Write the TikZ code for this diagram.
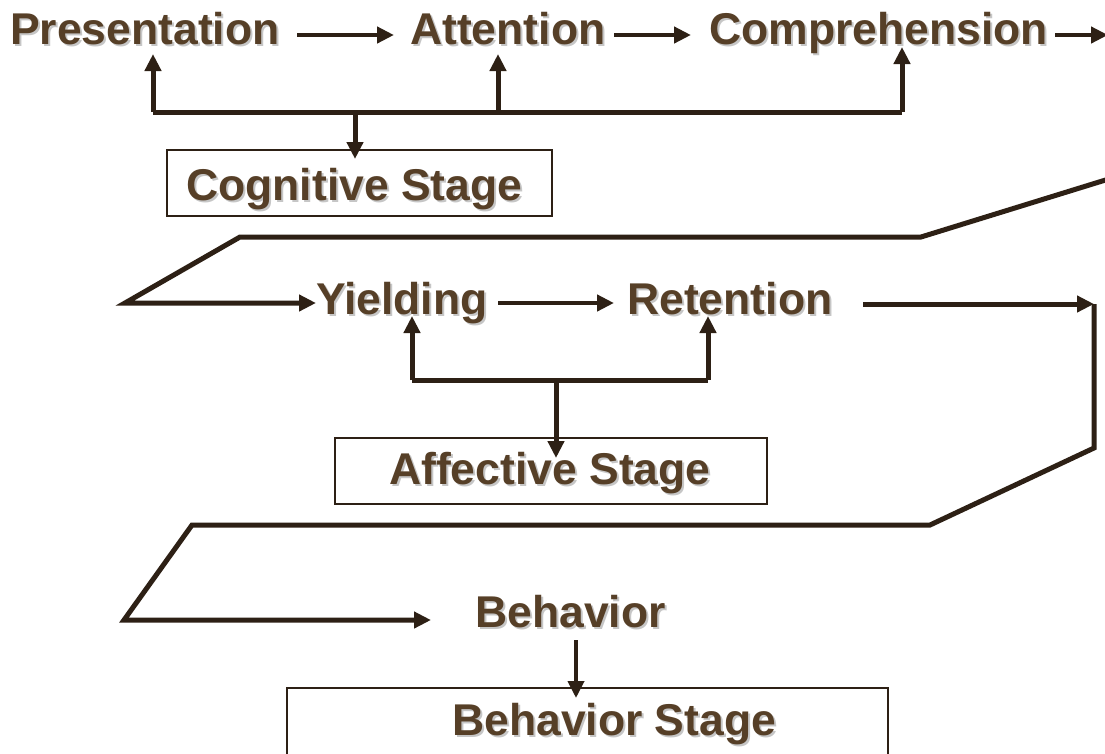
\documentclass[tikz,border=0pt]{standalone}
\usepackage{fontspec}
\setmainfont{Liberation Sans}
\usetikzlibrary{arrows.meta,calc}
\definecolor{txt}{HTML}{563F27}
\definecolor{ln}{HTML}{2D2015}
\definecolor{shd}{HTML}{C6C6C6}
\tikzset{
  lbl/.style={font=\fontsize{44.5}{52}\selectfont\bfseries, text=txt, inner sep=0pt, anchor=base west},
  shadowlbl/.style={lbl, text=shd},
  stagebox/.style={draw=ln, line width=1.5pt, inner sep=0pt},
  conn/.style={draw=ln, line width=5pt, line cap=butt, line join=miter},
  thinconn/.style={conn, line width=4.6pt},
  hair/.style={conn, line width=4pt},
  tip/.style={-{Triangle[length=17pt,width=16pt]}},
}
\newcommand\slabel[3]{%
  \node[shadowlbl] at ($(#2)+(2,2)$) {#3};
  \node[lbl] (#1) at (#2) {#3};}
\begin{document}
\begin{tikzpicture}[x=1pt,y=-1pt]
\path[use as bounding box, clip] (0,0) rectangle (1105,753);
\fill[white] (0,0) rectangle (1105,753);

% boxes
\node[stagebox, minimum width=385pt, minimum height=66pt] (cogbox) at (359.5,183) {};
\node[stagebox, minimum width=432pt, minimum height=66pt] (affbox) at (551,471) {};
\node[stagebox, minimum width=601pt, minimum height=90pt] (behbox) at (587.5,733) {};

% labels
\slabel{pres}{10,44}{Presentation}
\slabel{att}{410,44}{Attention}
\slabel{comp}{709,44}{Comprehension}
\slabel{cog}{186,200}{Cognitive Stage}
\slabel{yield}{316,314}{Yielding}
\slabel{ret}{627,314}{Retention}
\slabel{aff}{389,484}{Affective Stage}
\slabel{beh}{475,627}{Behavior}
\slabel{behst}{452,735}{Behavior Stage}

% coordinates
\coordinate (a1s) at (297,35);  \coordinate (a1e) at (394,35);
\coordinate (a2s) at (614,35);  \coordinate (a2e) at (691,35);
\coordinate (a3s) at (1055,35); \coordinate (a3e) at (1108,35);
\coordinate (busL) at (153,112); \coordinate (busM) at (498,112);
\coordinate (busR) at (902,112); \coordinate (busD) at (355,112);
\coordinate (tL) at (153,54); \coordinate (tM) at (498,54);
\coordinate (tR) at (902,47); \coordinate (tD) at (355,159);
\coordinate (z1) at (1112,178); \coordinate (z2) at (921,237);
\coordinate (z3) at (240,237);  \coordinate (z4) at (125,303);
\coordinate (z5) at (316,303);
\coordinate (y1) at (498,303);  \coordinate (y2) at (614,303);
\coordinate (b2L) at (412,380); \coordinate (b2R) at (708,380);
\coordinate (b2D) at (556,380);
\coordinate (t2L) at (412,316); \coordinate (t2R) at (708,316);
\coordinate (t2D) at (556,458);
\coordinate (r1) at (863,304);  \coordinate (r2) at (1094,304);
\coordinate (r3) at (1094,448); \coordinate (r4) at (930,525);
\coordinate (r5) at (192,525);  \coordinate (r6) at (124,620);
\coordinate (r7) at (431,620);
\coordinate (bh1) at (576,640); \coordinate (bh2) at (576,698);

% row 1 arrows
\draw[thinconn, tip] (a1s) -- (a1e);
\draw[thinconn, tip] (a2s) -- (a2e);
\draw[thinconn, tip] (a3s) -- (a3e);

% cognitive bus
\draw[conn] (busL) -- (busR);
\draw[conn, tip] (busL) -- (tL);
\draw[conn, tip] (busM) -- (tM);
\draw[conn, tip] (busR) -- (tR);
\draw[conn, tip] (busD) -- (tD);

% zigzag 1
\draw[conn, tip] (z1) -- (z2) -- (z3) -- (z4) -- (z5);

% row 2
\draw[thinconn, tip] (y1) -- (y2);
\draw[conn] (b2L) -- (b2R);
\draw[conn, tip] (b2L) -- (t2L);
\draw[conn, tip] (b2R) -- (t2R);
\draw[conn, tip] (b2D) -- (t2D);

% right loop
\draw[conn, tip] (r1) -- (r2);
\draw[conn, tip] (r2) -- (r3) -- (r4) -- (r5) -- (r6) -- (r7);

% behavior
\draw[hair, tip] (bh1) -- (bh2);
\end{tikzpicture}
\end{document}
